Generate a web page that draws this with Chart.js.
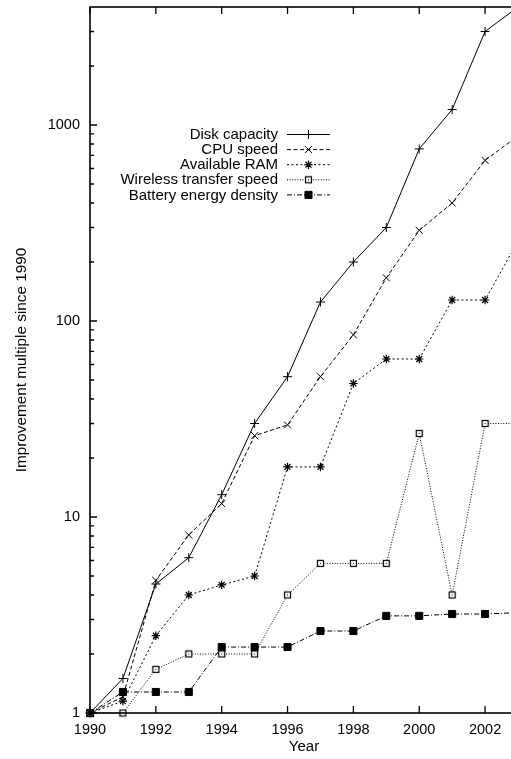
<!DOCTYPE html>
<html><head><meta charset="utf-8">
<script src="https://cdn.jsdelivr.net/npm/chart.js@4.4.1/dist/chart.umd.min.js"></script>
<style>html,body{margin:0;padding:0;overflow:hidden;background:#fff;width:511px;height:759px}canvas{display:block}</style>
</head><body>
<canvas id="c" width="530" height="759"></canvas>
<script>
// ---- data ----
const years = [1990,1991,1992,1993,1994,1995,1996,1997,1998,1999,2000,2001,2002,2003];
const seriesNames = ['Disk capacity','CPU speed','Available RAM','Wireless transfer speed','Battery energy density'];
const diskCapacity = [1, 1.5, 4.55, 6.2, 13, 30, 52, 125, 200, 300, 755, 1200, 3000, 4000];
const cpuSpeed = [1, 1.21, 4.75, 8.1, 11.7, 26, 29.5, 52, 85, 166, 290, 400, 660, 880];
const availableRam = [1, 1.15, 2.48, 4.0, 4.5, 5.0, 18, 18, 48, 64, 64, 128, 128, 256];
const wirelessSpeed = [1, 1.0, 1.67, 2.0, 2.0, 2.0, 4.0, 5.8, 5.8, 5.8, 26.7, 4.0, 30, 30];
const batteryDensity = [1, 1.28, 1.28, 1.28, 2.17, 2.17, 2.17, 2.62, 2.62, 3.13, 3.13, 3.2, 3.2, 3.25];
const xTickYears = [1990,1992,1994,1996,1998,2000,2002];
const yLabelValues = [1,10,100,1000];
const yMinorValues = [2,3,4,5,6,7,8,9,20,30,40,50,60,70,80,90,200,300,400,500,600,700,800,900,2000,3000];
const xAxisTitle = 'Year';
const yAxisTitle = 'Improvement multiple since 1990';

const FONT = 'Liberation Sans, Arimo, Helvetica, Arial, sans-serif';

// open square with a centre dot (wireless marker)
function boxDot() {
  const c = document.createElement('canvas'); c.width = 9; c.height = 9;
  const g = c.getContext('2d');
  g.fillStyle = '#fff'; g.fillRect(1,1,7,7);
  g.strokeStyle = '#000'; g.lineWidth = 1.2; g.strokeRect(1.5,1.5,6,6);
  g.fillStyle = '#000'; g.fillRect(4,4,1,1);
  return c;
}
const boxImg = boxDot();

const styles = [
  {pointStyle:'cross', radius:4.5, dash:[], bw:1},
  {pointStyle:'crossRot', radius:5, dash:[4,2.5], bw:1},
  {pointStyle:'star', radius:4.2, dash:[2,2.5], bw:1.2},
  {pointStyle:boxImg, radius:4.5, dash:[1,1.6], bw:1},
  {pointStyle:'rect', radius:5, dash:[5,2,1,2], bw:1}
];
const seriesValues = [diskCapacity, cpuSpeed, availableRam, wirelessSpeed, batteryDensity];

const datasets = seriesNames.map((name, i) => ({
  label: name,
  data: years.map((yr, k) => ({x: yr, y: seriesValues[i][k]})),
  borderColor: '#000',
  backgroundColor: '#000',
  borderWidth: 1,
  borderDash: styles[i].dash,
  pointStyle: styles[i].pointStyle,
  pointRadius: styles[i].radius,
  pointBorderWidth: styles[i].bw,
  pointBorderColor: '#000',
  pointBackgroundColor: '#000',
  tension: 0,
  clip: {left: 8, bottom: 8, right: 8, top: 1}
}));

const framePlugin = {
  id: 'frameTicks',
  afterDraw(chart) {
    const ctx = chart.ctx, a = chart.chartArea, xs = chart.scales.x, ys = chart.scales.y;
    ctx.save();
    ctx.strokeStyle = '#000'; ctx.setLineDash([]); ctx.lineWidth = 1.3;
    ctx.beginPath();
    xs.ticks.forEach(t => {
      const px = xs.getPixelForValue(t.value);
      ctx.moveTo(px, a.bottom); ctx.lineTo(px, a.bottom - 7);
      ctx.moveTo(px, a.top); ctx.lineTo(px, a.top + 7);
    });
    ys.ticks.forEach(t => {
      const py = ys.getPixelForValue(t.value);
      const L = yLabelValues.includes(t.value) ? 7 : 4;
      ctx.moveTo(a.left, py); ctx.lineTo(a.left + L, py);
      ctx.moveTo(a.right, py); ctx.lineTo(a.right - L, py);
    });
    ctx.stroke();
    ctx.lineWidth = 1.6;
    ctx.strokeRect(a.left, a.top, a.right - a.left, a.bottom - a.top);

    // legend
    const tx = 278, lx0 = 287, lx1 = 330, mx = 308.5, y0 = 134.5, dy = 15.1;
    ctx.font = '15px ' + FONT;
    ctx.textAlign = 'right'; ctx.textBaseline = 'middle'; ctx.fillStyle = '#000';
    chart.data.datasets.forEach((ds, i) => {
      const y = y0 + i * dy;
      ctx.fillText(ds.label, tx, y + 0.5);
      ctx.save();
      ctx.lineWidth = 1; ctx.setLineDash(ds.borderDash);
      ctx.beginPath(); ctx.moveTo(lx0, y); ctx.lineTo(lx1, y); ctx.stroke();
      ctx.setLineDash([]);
      ctx.fillStyle = '#000'; ctx.strokeStyle = '#000'; ctx.lineWidth = ds.pointBorderWidth;
      Chart.helpers.drawPoint(ctx, {pointStyle: ds.pointStyle, radius: ds.pointRadius, borderWidth: ds.pointBorderWidth, rotation: 0}, mx, y);
      ctx.restore();
    });
    ctx.restore();
  }
};

new Chart(document.getElementById('c'), {
  type: 'line',
  data: {datasets},
  plugins: [framePlugin],
  options: {
    responsive: false,
    animation: false,
    layout: {padding: {top: 7, right: 12, left: 0, bottom: 0}},
    plugins: {legend: {display: false}, tooltip: {enabled: false}},
    scales: {
      x: {
        type: 'linear', min: 1990, max: 2003,
        afterBuildTicks: s => { s.ticks = xTickYears.map(v => ({value: v})); },
        afterFit: s => { s.height = 46; s.paddingLeft = 0; s.paddingRight = 0; },
        grid: {display: false, drawTicks: false},
        border: {display: false},
        ticks: {color: '#000', font: {family: FONT, size: 14.5}, padding: 8, maxRotation: 0, autoSkip: false, callback: v => String(v)},
        title: {display: true, text: xAxisTitle, color: '#000', font: {family: FONT, size: 15}, padding: {top: 0, bottom: 3}}
      },
      y: {
        type: 'logarithmic', min: 1, max: 4000,
        afterBuildTicks: s => { s.ticks = yLabelValues.concat(yMinorValues).sort((p, q) => p - q).map(v => ({value: v})); },
        afterFit: s => { s.width = 90; s.paddingTop = 0; s.paddingBottom = 0; },
        grid: {display: false, drawTicks: false},
        border: {display: false},
        ticks: {color: '#000', font: {family: FONT, size: 14.5}, padding: 10, autoSkip: false, callback: v => yLabelValues.includes(v) ? String(v) : ''},
        title: {display: true, text: yAxisTitle, color: '#000', font: {family: FONT, size: 15.3}, padding: {top: 12.5, bottom: 0}}
      }
    }
  }
});
</script>
</body></html>
